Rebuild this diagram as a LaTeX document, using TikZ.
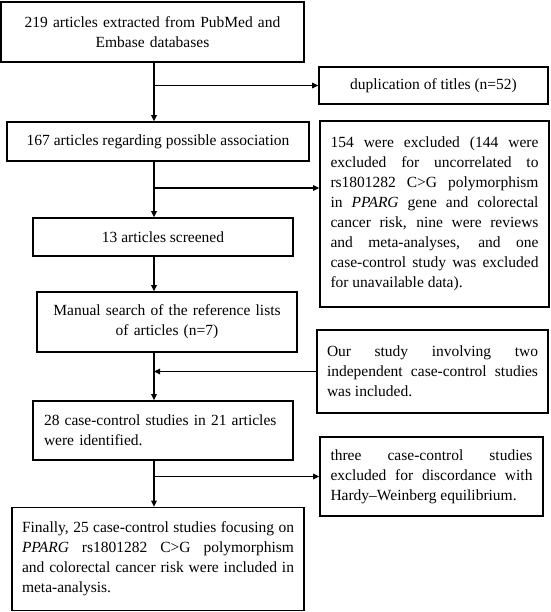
\documentclass[tikz,border=0pt]{standalone}
\usepackage{fontspec}
\setmainfont{Liberation Serif}
\usetikzlibrary{arrows.meta}
\begin{document}
\begin{tikzpicture}[x=1pt,y=-1pt,
  box/.style={draw,line width=1.6pt,inner sep=0pt,
    font=\fontsize{15.5}{20}\selectfont},
  just/.style={align=justify,execute at begin node={\tolerance=9999\hyphenpenalty=10000\emergencystretch=2em}},
  conn/.style={line width=1.4pt},
  arr/.style={conn,-{Triangle[length=6pt,width=5.5pt]}}]
\useasboundingbox (0,0) rectangle (550,612);
\coordinate (sp) at (154,0);

\node[box,minimum width=303pt,minimum height=60pt,text width=285pt,align=center] (b1) at (152.5,32)
  {219 articles extracted from PubMed and\\Embase databases};
\node[box,minimum width=229pt,minimum height=37pt,align=center] (dup) at (433.5,85.5)
  {duplication of titles (n=52)};
\node[box,minimum width=302pt,minimum height=39pt,align=center] (b2) at (158,141.5)
  {167 articles regarding possible association};
\node[box,minimum width=229pt,minimum height=186pt,text width=208pt,just] (ex1) at (434.5,214)
  {154 were excluded (144 were\linebreak excluded for uncorrelated to\linebreak rs1801282 C>G polymorphism\linebreak in \textit{PPARG} gene and colorectal\linebreak cancer risk, nine were reviews\linebreak and meta-analyses, and one\linebreak case-control study was excluded\linebreak for unavailable data).};
\node[box,minimum width=260pt,minimum height=38pt,align=center] (b3) at (163,237)
  {13 articles screened};
\node[box,minimum width=260pt,minimum height=60pt,text width=250pt,align=center] (b4) at (167,322)
  {Manual search of the reference lists\\of articles (n=7)};
\node[box,minimum width=231pt,minimum height=83pt,text width=211pt,just] (our) at (432.5,371.5)
  {Our study involving two\linebreak independent case-control studies\linebreak was included.};
\node[box,minimum width=260pt,minimum height=59pt,text width=238pt,align=left] (b5) at (163,430.5)
  {28 case-control studies in 21 articles\\were identified.};
\node[box,minimum width=223pt,minimum height=79pt,text width=202pt,just] (hw) at (431.5,476.5)
  {three case-control studies\linebreak excluded for discordance with\linebreak Hardy–Weinberg equilibrium.};
\node[box,minimum width=292pt,minimum height=103pt,text width=272pt,just] (b6) at (158,559)
  {Finally, 25 case-control studies focusing on\linebreak \textit{PPARG} rs1801282 C>G polymorphism\linebreak and colorectal cancer risk were included in\linebreak meta-analysis.};

\draw[arr] (b1.south -| sp) -- (b2.north -| sp);
\draw[arr] (dup.west -| sp) -- (dup.west);
\draw[arr] (b2.south -| sp) -- (b3.north -| sp);
\draw[arr] (sp |- 0,188) coordinate (j2) -- (j2 -| ex1.west);
\draw[arr] (b3.south -| sp) -- (b4.north -| sp);
\draw[arr] (b4.south -| sp) -- (b5.north -| sp);
\draw[arr] (our.west) -- (our.west -| sp);
\draw[arr] (b5.south -| sp) -- (b6.north -| sp);
\draw[arr] (hw.west -| sp) -- (hw.west);
\end{tikzpicture}
\end{document}
